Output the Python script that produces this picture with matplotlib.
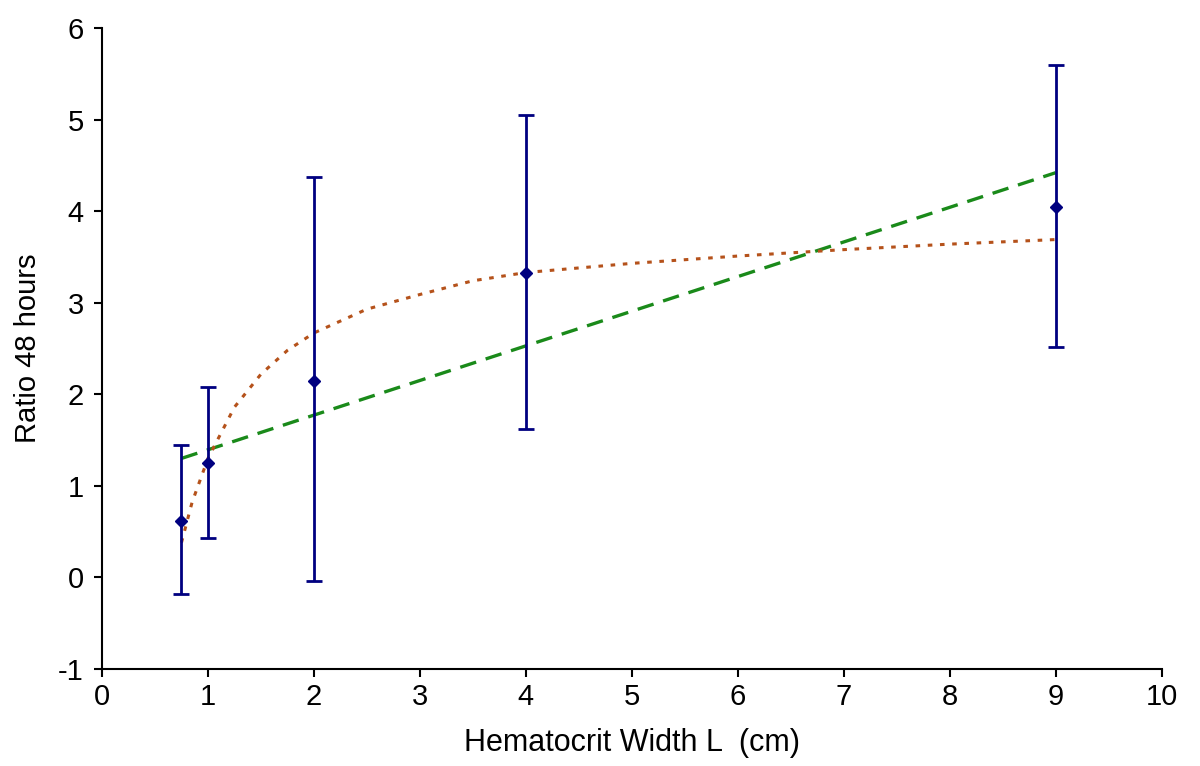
import matplotlib.pyplot as plt

# measured points with error bars
width = [0.75, 1, 2, 4, 9]
ratio = [0.62, 1.25, 2.15, 3.33, 4.05]
err_low = [-0.18, 0.43, -0.04, 1.62, 2.52]
err_high = [1.45, 2.08, 4.37, 5.05, 5.60]

# linear trend
lin_x = [0.75, 9]
lin_y = [1.30, 4.42]

# saturating trend
curve_x = [0.75, 0.85, 1.0, 1.25, 1.5, 1.75, 2.0, 2.5, 3.0, 3.5, 4.0, 5.0, 6.0, 7.0, 8.0, 9.0]
curve_y = [0.38, 0.82, 1.30, 1.86, 2.22, 2.48, 2.67, 2.93, 3.09, 3.24, 3.33, 3.43, 3.51, 3.58, 3.64, 3.69]

plt.rcParams['font.family'] = ['Liberation Sans', 'DejaVu Sans']
plt.rcParams['axes.unicode_minus'] = False

fig = plt.figure(figsize=(12, 7.66), dpi=100)
ax = fig.add_axes([0.085, 0.1266, 0.883, 0.8368])

yerr = [[r - lo for r, lo in zip(ratio, err_low)],
        [hi - r for r, hi in zip(ratio, err_high)]]
ax.errorbar(width, ratio, yerr=yerr, fmt='D', color='#000080', ms=6,
            ecolor='#000080', elinewidth=2, capsize=5.5, capthick=2, zorder=3)

ax.plot(lin_x, lin_y, color='#1a8a1a', lw=2.4, ls=(0, (5, 3)), zorder=2)
ax.plot(curve_x, curve_y, color='#b5521b', lw=2.2, ls=(0, (1.5, 2.5)), zorder=2)

ax.set_xlim(0, 10)
ax.set_ylim(-1, 6)
ax.set_xticks(range(0, 11))
ax.set_yticks(range(-1, 7))
ax.tick_params(labelsize=21, width=1.5, length=6, direction='out')
ax.tick_params(axis='y', pad=7)
ax.tick_params(axis='x', pad=4)
ax.spines['top'].set_visible(False)
ax.spines['right'].set_visible(False)
ax.spines['left'].set_linewidth(1.5)
ax.spines['bottom'].set_linewidth(1.5)

ax.set_xlabel('Hematocrit Width L  (cm)', fontsize=22, labelpad=12)
ax.set_ylabel('Ratio 48 hours', fontsize=21, labelpad=12)

fig.savefig('out.png', dpi=100)
